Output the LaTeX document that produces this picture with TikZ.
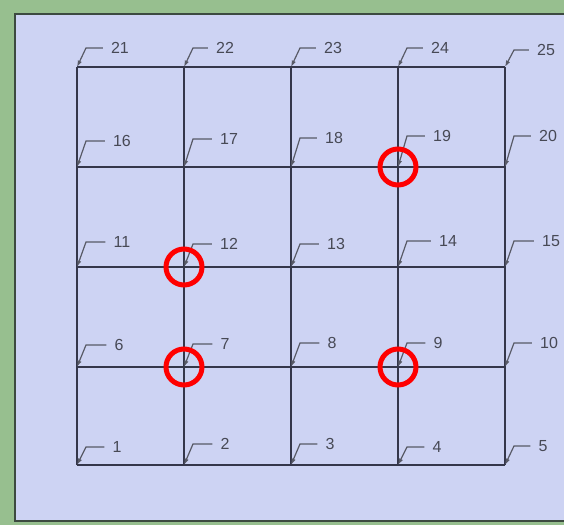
\documentclass[tikz,border=0pt]{standalone}
\usepackage{fontspec}
\setmainfont{Liberation Sans}
\usetikzlibrary{calc,arrows.meta}

\definecolor{framegreen}{HTML}{97BF8F}
\definecolor{panelblue}{HTML}{CDD3F3}
\definecolor{paneledge}{HTML}{3C4A40}
\definecolor{gridline}{HTML}{34364A}
\definecolor{leadergray}{HTML}{585A66}
\definecolor{labeltext}{HTML}{474955}

\begin{document}
\begin{tikzpicture}[
    x=1pt, y=-1pt,
    gridln/.style={gridline, line width=1.3pt},
    num/.style={font=\fontsize{16}{16}\selectfont, text=labeltext, inner sep=1pt},
    leader/.style={leadergray, line width=1.2pt, -{Latex[length=6.5pt,width=4.5pt]}},
    ring/.style={red, line width=5pt},
]
\useasboundingbox (0,0) rectangle (564,525);

% --- Frame and panel ---
\fill[framegreen] (0,0) rectangle (564,525);
\fill[panelblue] (15,14) rectangle (566,521);
\draw[paneledge, line width=1.2pt] (566,14) -- (15,14) -- (15,521) -- (566,521);

% --- Grid points ---
\foreach \r/\py in {0/465,1/367,2/267,3/167,4/67}
  \foreach \c/\px in {0/77,1/184,2/291,3/398,4/505} {
    \pgfmathtruncatemacro{\k}{5*\r+\c+1}
    \coordinate (n\k) at (\px,\py);
  }

% --- Grid lines ---
\foreach \a/\b in {1/5,6/10,11/15,16/20,21/25}
  \draw[gridln] (n\a) -- (n\b);
\foreach \a/\b in {1/21,2/22,3/23,4/24,5/25}
  \draw[gridln] (n\a) -- (n\b);

% --- Point numbers ---
\foreach \k/\tx/\ty in {1/117/447, 2/225/444, 3/330/444, 4/437/447, 5/543/446,
    6/119/345, 7/225/344, 8/332/343, 9/438/343, 10/549/343,
    11/122/242, 12/229/244, 13/336/244, 14/448/241, 15/551/241,
    16/122/141, 17/229/139, 18/334/138, 19/442/136, 20/548/136,
    21/120/48, 22/225/48, 23/333/48, 24/440/48, 25/546/50} {
  \node[num] (l\k) at (\tx,\ty) {\k};
  \draw[leader] ($(l\k.west)+(-7,0)$) -- ($(l\k.west -| n\k)+(9,0)$) -- (n\k);
}

% --- Highlighted points ---
\foreach \k in {19,12,7,9}
  \draw[ring] (n\k) circle[radius=18];

\end{tikzpicture}
\end{document}
